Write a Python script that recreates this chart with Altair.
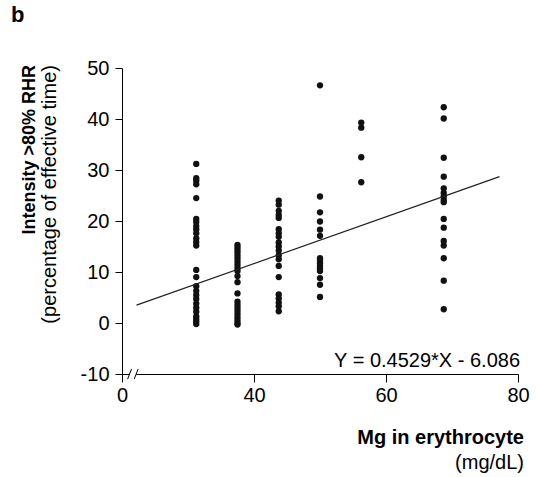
import altair as alt
import pandas as pd

# ---- data ----
mg_levels = [31.25, 37.5, 43.75, 50.0, 56.25, 68.75]
col1 = [31.2, 28.4, 27.9, 27.2, 24.5, 20.4, 19.8, 19.0, 18.4, 17.6, 16.6, 15.9, 15.2,
        10.4, 9.0, 7.2, 6.3, 5.5, 4.7, 3.8, 3.0, 2.2, 1.3, 0.8, 0.3, -0.2]
col2 = [15.3, 14.8, 14.3, 13.8, 13.2, 12.6, 12.0, 11.4, 10.8, 10.2, 9.2, 8.0, 5.8,
        4.2, 3.6, 3.0, 2.4, 1.8, 1.2, 0.6, 0.0, -0.3]
col3 = [24.0, 23.2, 22.0, 21.2, 20.6, 18.4, 17.6, 16.9, 15.8, 15.0, 14.2, 13.3, 12.5,
        11.2, 9.0, 5.6, 4.8, 4.0, 3.3, 2.3]
col4 = [46.6, 24.8, 21.7, 19.9, 18.3, 17.1, 12.7, 12.2, 11.7, 11.2, 10.7, 10.2, 8.8,
        7.5, 5.1]
col5 = [39.3, 38.3, 32.5, 27.6]
col6 = [42.3, 40.1, 32.4, 28.7, 26.4, 25.5, 24.8, 24.1, 23.7, 20.4, 18.7, 16.1, 15.2,
        12.7, 8.3, 2.7]
columns = [col1, col2, col3, col4, col5, col6]

fit_x = [22.2, 77.2]
fit_y = [3.5, 28.7]

x_ticks = [20, 40, 60, 80]
y_ticks = [-10, 0, 10, 20, 30, 40, 50]

rows = [{"mg": x, "intensity": y} for x, ys in zip(mg_levels, columns) for y in ys]
df = pd.DataFrame(rows)
line_df = pd.DataFrame({"mg": fit_x, "intensity": fit_y})

FONT = "Liberation Sans"
W, H = 396, 306

xscale = alt.Scale(domain=[20, 80], nice=False, zero=False)
yscale = alt.Scale(domain=[-10, 50], nice=False, zero=False)

axis_common = dict(
    grid=False, domainColor="black", tickColor="black", labelColor="black",
    labelFont=FONT, labelFontSize=20, domainWidth=1, tickWidth=1,
    labelFlush=False, labelOverlap=False, title=None,
)

points = alt.Chart(df).mark_circle(size=40, color="#111111", opacity=1).encode(
    x=alt.X("mg:Q", scale=xscale,
            axis=alt.Axis(values=x_ticks, tickSize=8, labelPadding=3,
                          labelExpr="datum.value == 20 ? '0' : datum.label", **axis_common)),
    y=alt.Y("intensity:Q", scale=yscale,
            axis=alt.Axis(values=y_ticks, tickSize=7, labelPadding=6,
                          labelExpr="'' + datum.value", **axis_common)),
)

fit = alt.Chart(line_df).mark_line(color="#222222", strokeWidth=1.2).encode(
    x=alt.X("mg:Q", scale=xscale), y=alt.Y("intensity:Q", scale=yscale)
)

one = pd.DataFrame({"a": [0]})
gap = alt.Chart(one).mark_rule(color="white", strokeWidth=4).encode(
    x=alt.datum(21.15), x2=alt.datum(22.15), y=alt.datum(-10)
)
slash1 = alt.Chart(one).mark_rule(color="black", strokeWidth=1).encode(
    x=alt.datum(20.85), x2=alt.datum(21.45), y=alt.datum(-11), y2=alt.datum(-9)
)
slash2 = alt.Chart(one).mark_rule(color="black", strokeWidth=1).encode(
    x=alt.datum(21.85), x2=alt.datum(22.45), y=alt.datum(-11), y2=alt.datum(-9)
)

def label(text, x, y, size=20, weight="normal", align="left", angle=0, baseline="alphabetic"):
    return alt.Chart(one).mark_text(
        text=text, font=FONT, fontSize=size, fontWeight=weight, align=align,
        baseline=baseline, angle=angle, color="black",
    ).encode(x=alt.value(x), y=alt.value(y))

panel = label("b", -111, -46, size=22, weight="bold")
ytitle1 = label("Intensity >80% RHR", -92, -3, size=18, weight="bold", align="right",
                angle=270, baseline="middle")
ytitle2 = label("(percentage of effective time)", -72, -3, size=20, align="right",
                angle=270, baseline="middle")
xtitle1 = label("Mg in erythrocyte", 402, 376, size=20, weight="bold", align="right")
xtitle2 = label("(mg/dL)", 402, 401, size=20, align="right")
eq = label("Y = 0.4529*X - 6.086", 398, 299, size=20, align="right")

chart = alt.layer(points, fit, gap, slash1, slash2, panel, ytitle1, ytitle2,
                  xtitle1, xtitle2, eq).properties(
    width=W, height=H,
    autosize=alt.AutoSizeParams(type="none"),
    padding={"left": 122, "top": 68, "right": 19, "bottom": 103},
).configure_view(strokeWidth=0)

chart.save("out.html", embed_options={"renderer": "svg", "actions": False})
